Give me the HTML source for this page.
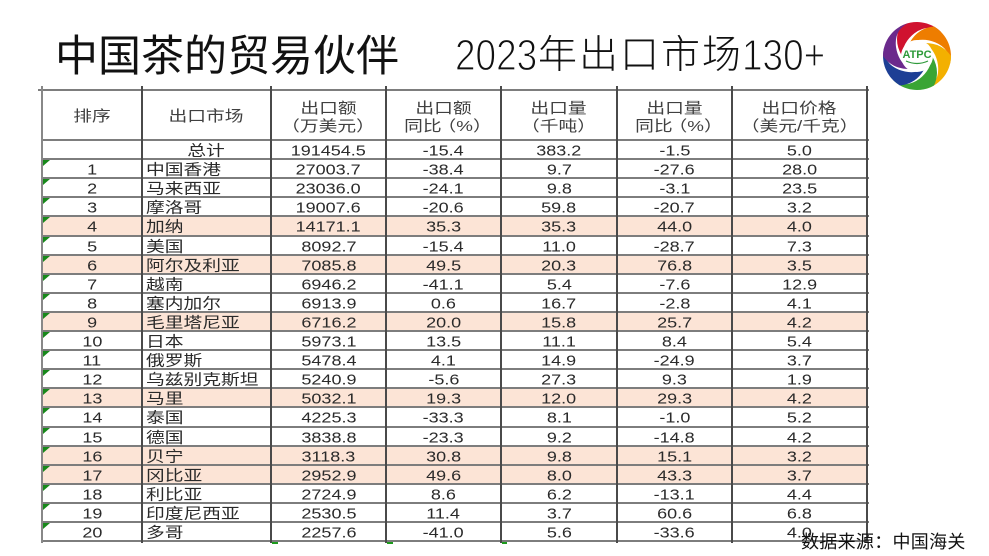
<!DOCTYPE html>
<html><head><meta charset="utf-8">
<style>
*{margin:0;padding:0;box-sizing:border-box}
html,body{width:989px;height:556px;overflow:hidden;background:#fff}
body{position:relative;font-family:"Liberation Sans","Noto Sans CJK SC",sans-serif;color:#2a2a2a}
.a{position:absolute;white-space:nowrap}
.r{position:absolute;left:42px;width:825px;display:flex;font-size:15px;color:#2a2a2a}
.h{background:#fce4d6}
.c{text-align:center;white-space:nowrap;overflow:visible}
.c span{display:inline-block;transform:translateY(1.5px) scaleX(1.2)}
.m{text-align:left;padding-left:4px}
.m span,.cz span{transform:translateY(1.5px) scaleX(1.25);transform-origin:left center}
.cz span{transform-origin:center}
.w0{width:100px}.w1{width:129px}.w2{width:115px}.w3{width:115px}.w4{width:116px}.w5{width:115px}.w6{width:135px}
.hl{position:absolute;left:42px;width:827px;height:2px;background:#7d7d7d}
.vl{position:absolute;top:86px;height:457px;width:2px;background:#4a4a4a}
.hd{position:absolute;font-size:15px;color:#404040;text-align:center;line-height:18px}
.hd span{display:inline-block;transform:scaleX(1.25);font-feature-settings:"halt"}
.tri{position:absolute;left:43px;width:0;height:0;border-top:6px solid #17881a;border-right:7px solid transparent}
.lt{-webkit-text-stroke:1.2px #fff}
</style></head><body>

<!-- Title -->
<div class="a" style="left:55px;top:36px;font-size:43px;line-height:43px;color:#111;">中国茶的贸易伙伴</div>
<div class="a lt" style="left:455px;top:34px;font-size:44px;line-height:44px;color:#111;transform:scaleX(0.84);transform-origin:left top;">2023</div>
<div class="a" style="left:538px;top:36px;font-size:39px;line-height:39px;letter-spacing:2px;color:#111;font-weight:300;">年出口市场</div>
<div class="a lt" style="left:742px;top:34px;font-size:44px;line-height:44px;color:#111;transform:scaleX(0.84);transform-origin:left top;">130+</div>

<!-- Logo -->
<svg class="a" style="left:879px;top:18px" width="76" height="76" viewBox="-38 -38 76 76">
  <defs>
    <path id="bl" d="M0,-34 A34,34 0 0 1 32.8,-8.8 Q26,-23 9,-21 Q-5,-19 -13,-8 Q-13,-25 0,-34 Z"/>
  </defs>
  <use href="#bl" fill="#d0122f" transform="rotate(-30)"/>
  <use href="#bl" fill="#ee7d00" transform="rotate(30)"/>
  <use href="#bl" fill="#f3b000" transform="rotate(90)"/>
  <use href="#bl" fill="#3aa534" transform="rotate(150)"/>
  <use href="#bl" fill="#1d3f95" transform="rotate(210)"/>
  <use href="#bl" fill="#6b2a8c" transform="rotate(270)"/>
  <circle cx="0" cy="0" r="16" fill="#fff"/>
  <text x="0" y="2" text-anchor="middle" font-family="Liberation Sans" font-weight="bold" font-size="11" fill="#2e9a3a">ATPC</text>
  <path d="M-11,5 Q0,10 11,5" stroke="#2e9a3a" stroke-width="1.2" fill="none"/>
</svg>

<!-- Header cells -->
<div class="hd" style="left:42px;width:100px;top:108px;"><span>排序</span></div>
<div class="hd" style="left:142px;width:129px;top:108px;"><span>出口市场</span></div>
<div class="hd" style="left:271px;width:115px;top:99.5px;"><span>出口额</span><br><span>（万美元）</span></div>
<div class="hd" style="left:386px;width:115px;top:99.5px;"><span>出口额</span><br><span>同比 （%）</span></div>
<div class="hd" style="left:501px;width:116px;top:99.5px;"><span>出口量</span><br><span>（千吨）</span></div>
<div class="hd" style="left:617px;width:115px;top:99.5px;"><span>出口量</span><br><span>同比 （%）</span></div>
<div class="hd" style="left:732px;width:135px;top:99.5px;"><span>出口价格</span><br><span>（美元/千克）</span></div>

<!-- Rows -->
<div class="r" style="top:140px;height:19px;line-height:19px"><div class="c w0"></div><div class="c cz w1"><span>总计</span></div><div class="c w2"><span>191454.5</span></div><div class="c w3"><span>-15.4</span></div><div class="c w4"><span>383.2</span></div><div class="c w5"><span>-1.5</span></div><div class="c w6"><span>5.0</span></div></div>
<div class="r" style="top:159px;height:19px;line-height:19px"><div class="c w0"><span>1</span></div><div class="c m w1"><span>中国香港</span></div><div class="c w2"><span>27003.7</span></div><div class="c w3"><span>-38.4</span></div><div class="c w4"><span>9.7</span></div><div class="c w5"><span>-27.6</span></div><div class="c w6"><span>28.0</span></div></div>
<div class="r" style="top:178px;height:19px;line-height:19px"><div class="c w0"><span>2</span></div><div class="c m w1"><span>马来西亚</span></div><div class="c w2"><span>23036.0</span></div><div class="c w3"><span>-24.1</span></div><div class="c w4"><span>9.8</span></div><div class="c w5"><span>-3.1</span></div><div class="c w6"><span>23.5</span></div></div>
<div class="r" style="top:197px;height:19px;line-height:19px"><div class="c w0"><span>3</span></div><div class="c m w1"><span>摩洛哥</span></div><div class="c w2"><span>19007.6</span></div><div class="c w3"><span>-20.6</span></div><div class="c w4"><span>59.8</span></div><div class="c w5"><span>-20.7</span></div><div class="c w6"><span>3.2</span></div></div>
<div class="r h" style="top:216px;height:20px;line-height:20px"><div class="c w0"><span>4</span></div><div class="c m w1"><span>加纳</span></div><div class="c w2"><span>14171.1</span></div><div class="c w3"><span>35.3</span></div><div class="c w4"><span>35.3</span></div><div class="c w5"><span>44.0</span></div><div class="c w6"><span>4.0</span></div></div>
<div class="r" style="top:236px;height:19px;line-height:19px"><div class="c w0"><span>5</span></div><div class="c m w1"><span>美国</span></div><div class="c w2"><span>8092.7</span></div><div class="c w3"><span>-15.4</span></div><div class="c w4"><span>11.0</span></div><div class="c w5"><span>-28.7</span></div><div class="c w6"><span>7.3</span></div></div>
<div class="r h" style="top:255px;height:19px;line-height:19px"><div class="c w0"><span>6</span></div><div class="c m w1"><span>阿尔及利亚</span></div><div class="c w2"><span>7085.8</span></div><div class="c w3"><span>49.5</span></div><div class="c w4"><span>20.3</span></div><div class="c w5"><span>76.8</span></div><div class="c w6"><span>3.5</span></div></div>
<div class="r" style="top:274px;height:19px;line-height:19px"><div class="c w0"><span>7</span></div><div class="c m w1"><span>越南</span></div><div class="c w2"><span>6946.2</span></div><div class="c w3"><span>-41.1</span></div><div class="c w4"><span>5.4</span></div><div class="c w5"><span>-7.6</span></div><div class="c w6"><span>12.9</span></div></div>
<div class="r" style="top:293px;height:19px;line-height:19px"><div class="c w0"><span>8</span></div><div class="c m w1"><span>塞内加尔</span></div><div class="c w2"><span>6913.9</span></div><div class="c w3"><span>0.6</span></div><div class="c w4"><span>16.7</span></div><div class="c w5"><span>-2.8</span></div><div class="c w6"><span>4.1</span></div></div>
<div class="r h" style="top:312px;height:19px;line-height:19px"><div class="c w0"><span>9</span></div><div class="c m w1"><span>毛里塔尼亚</span></div><div class="c w2"><span>6716.2</span></div><div class="c w3"><span>20.0</span></div><div class="c w4"><span>15.8</span></div><div class="c w5"><span>25.7</span></div><div class="c w6"><span>4.2</span></div></div>
<div class="r" style="top:331px;height:19px;line-height:19px"><div class="c w0"><span>10</span></div><div class="c m w1"><span>日本</span></div><div class="c w2"><span>5973.1</span></div><div class="c w3"><span>13.5</span></div><div class="c w4"><span>11.1</span></div><div class="c w5"><span>8.4</span></div><div class="c w6"><span>5.4</span></div></div>
<div class="r" style="top:350px;height:19px;line-height:19px"><div class="c w0"><span>11</span></div><div class="c m w1"><span>俄罗斯</span></div><div class="c w2"><span>5478.4</span></div><div class="c w3"><span>4.1</span></div><div class="c w4"><span>14.9</span></div><div class="c w5"><span>-24.9</span></div><div class="c w6"><span>3.7</span></div></div>
<div class="r" style="top:369px;height:19px;line-height:19px"><div class="c w0"><span>12</span></div><div class="c m w1"><span>乌兹别克斯坦</span></div><div class="c w2"><span>5240.9</span></div><div class="c w3"><span>-5.6</span></div><div class="c w4"><span>27.3</span></div><div class="c w5"><span>9.3</span></div><div class="c w6"><span>1.9</span></div></div>
<div class="r h" style="top:388px;height:19px;line-height:19px"><div class="c w0"><span>13</span></div><div class="c m w1"><span>马里</span></div><div class="c w2"><span>5032.1</span></div><div class="c w3"><span>19.3</span></div><div class="c w4"><span>12.0</span></div><div class="c w5"><span>29.3</span></div><div class="c w6"><span>4.2</span></div></div>
<div class="r" style="top:407px;height:20px;line-height:20px"><div class="c w0"><span>14</span></div><div class="c m w1"><span>泰国</span></div><div class="c w2"><span>4225.3</span></div><div class="c w3"><span>-33.3</span></div><div class="c w4"><span>8.1</span></div><div class="c w5"><span>-1.0</span></div><div class="c w6"><span>5.2</span></div></div>
<div class="r" style="top:427px;height:19px;line-height:19px"><div class="c w0"><span>15</span></div><div class="c m w1"><span>德国</span></div><div class="c w2"><span>3838.8</span></div><div class="c w3"><span>-23.3</span></div><div class="c w4"><span>9.2</span></div><div class="c w5"><span>-14.8</span></div><div class="c w6"><span>4.2</span></div></div>
<div class="r h" style="top:446px;height:19px;line-height:19px"><div class="c w0"><span>16</span></div><div class="c m w1"><span>贝宁</span></div><div class="c w2"><span>3118.3</span></div><div class="c w3"><span>30.8</span></div><div class="c w4"><span>9.8</span></div><div class="c w5"><span>15.1</span></div><div class="c w6"><span>3.2</span></div></div>
<div class="r h" style="top:465px;height:19px;line-height:19px"><div class="c w0"><span>17</span></div><div class="c m w1"><span>冈比亚</span></div><div class="c w2"><span>2952.9</span></div><div class="c w3"><span>49.6</span></div><div class="c w4"><span>8.0</span></div><div class="c w5"><span>43.3</span></div><div class="c w6"><span>3.7</span></div></div>
<div class="r" style="top:484px;height:19px;line-height:19px"><div class="c w0"><span>18</span></div><div class="c m w1"><span>利比亚</span></div><div class="c w2"><span>2724.9</span></div><div class="c w3"><span>8.6</span></div><div class="c w4"><span>6.2</span></div><div class="c w5"><span>-13.1</span></div><div class="c w6"><span>4.4</span></div></div>
<div class="r" style="top:503px;height:19px;line-height:19px"><div class="c w0"><span>19</span></div><div class="c m w1"><span>印度尼西亚</span></div><div class="c w2"><span>2530.5</span></div><div class="c w3"><span>11.4</span></div><div class="c w4"><span>3.7</span></div><div class="c w5"><span>60.6</span></div><div class="c w6"><span>6.8</span></div></div>
<div class="r" style="top:522px;height:19px;line-height:19px"><div class="c w0"><span>20</span></div><div class="c m w1"><span>多哥</span></div><div class="c w2"><span>2257.6</span></div><div class="c w3"><span>-41.0</span></div><div class="c w4"><span>5.6</span></div><div class="c w5"><span>-33.6</span></div><div class="c w6"><span>4.0</span></div></div>

<!-- Horizontal lines -->
<div class="hl" style="top:89px;left:38px;width:831px"></div>
<div class="hl" style="top:139px"></div>
<div class="hl" style="top:158px"></div>
<div class="hl" style="top:177px"></div>
<div class="hl" style="top:196px"></div>
<div class="hl" style="top:215px"></div>
<div class="hl" style="top:235px"></div>
<div class="hl" style="top:254px"></div>
<div class="hl" style="top:273px"></div>
<div class="hl" style="top:292px"></div>
<div class="hl" style="top:311px"></div>
<div class="hl" style="top:330px"></div>
<div class="hl" style="top:349px"></div>
<div class="hl" style="top:368px"></div>
<div class="hl" style="top:387px"></div>
<div class="hl" style="top:406px"></div>
<div class="hl" style="top:426px"></div>
<div class="hl" style="top:445px"></div>
<div class="hl" style="top:464px"></div>
<div class="hl" style="top:483px"></div>
<div class="hl" style="top:502px"></div>
<div class="hl" style="top:521px"></div>
<div class="hl" style="top:540px"></div>

<!-- Vertical lines -->
<div class="vl" style="left:41px;background:#888"></div>
<div class="vl" style="left:141px"></div>
<div class="vl" style="left:270px"></div>
<div class="vl" style="left:385px"></div>
<div class="vl" style="left:500px"></div>
<div class="vl" style="left:616px"></div>
<div class="vl" style="left:731px"></div>
<div class="vl" style="left:866px"></div>

<!-- Green indicators -->
<div class="tri" style="top:160px"></div>
<div class="tri" style="top:179px"></div>
<div class="tri" style="top:198px"></div>
<div class="tri" style="top:217px"></div>
<div class="tri" style="top:237px"></div>
<div class="tri" style="top:256px"></div>
<div class="tri" style="top:275px"></div>
<div class="tri" style="top:294px"></div>
<div class="tri" style="top:313px"></div>
<div class="tri" style="top:332px"></div>
<div class="tri" style="top:351px"></div>
<div class="tri" style="top:370px"></div>
<div class="tri" style="top:389px"></div>
<div class="tri" style="top:408px"></div>
<div class="tri" style="top:428px"></div>
<div class="tri" style="top:447px"></div>
<div class="tri" style="top:466px"></div>
<div class="tri" style="top:485px"></div>
<div class="tri" style="top:504px"></div>
<div class="tri" style="top:523px"></div>
<div class="a" style="left:272px;top:542px;width:6px;height:2px;background:#1d9a1d"></div>
<div class="a" style="left:387px;top:542px;width:6px;height:2px;background:#1d9a1d"></div>
<div class="a" style="left:502px;top:542px;width:5px;height:2px;background:#1d9a1d"></div>

<!-- Footer -->
<div class="a" style="left:801px;top:533px;font-size:18px;line-height:18px;letter-spacing:0.3px;color:#111;">数据来源：中国海关</div>

</body></html>
